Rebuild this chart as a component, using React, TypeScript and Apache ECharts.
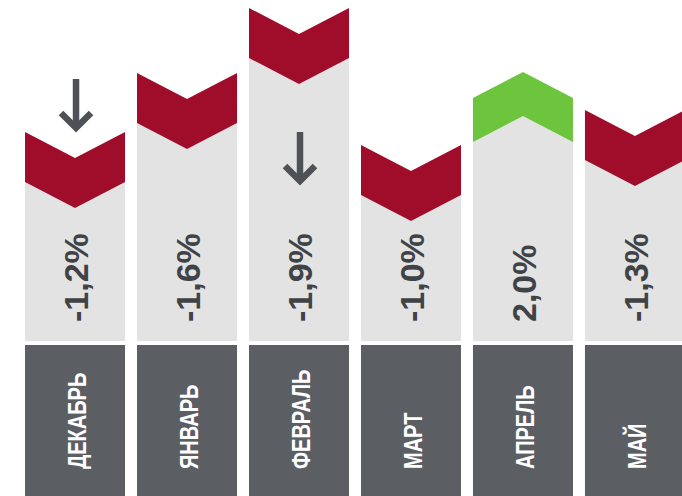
import React, { useEffect, useRef } from "react";
import * as echarts from "echarts";

// Month labels (categories)
const months = ["ДЕКАБРЬ", "ЯНВАРЬ", "ФЕВРАЛЬ", "МАРТ", "АПРЕЛЬ", "МАЙ"];
// Monthly change, %
const changes = [-1.2, -1.6, -1.9, -1.0, 2.0, -1.3];
// Column heights above the month boxes (px-like units)
const columnHeights = [213, 272, 337, 200, 273, 235];
// Down arrows: which month, top and bottom of each arrow (same units)
const arrowMonths = ["ДЕКАБРЬ", "ФЕВРАЛЬ"];
const arrowTops = [266, 213];
const arrowBottoms = [215, 162];

const RED = "#a00d2b";
const GREEN = "#6cc53c";
const LIGHT = "#e3e3e3";
const DARK = "#5b5e63";
const TEXT = "#3f4347";
const ARROW = "#4e5256";

const fmt = (v: number) => v.toFixed(1).replace(".", ",") + "%";

export default function App() {
  const ref = useRef<HTMLDivElement>(null);
  useEffect(() => {
    if (!ref.current) return;
    const chart = echarts.init(ref.current, null, { renderer: "svg" });
    const colData = months.map((m, i) => [i, columnHeights[i], changes[i]]);
    const arrowData = arrowMonths.map((m, k) => [months.indexOf(m), arrowTops[k], arrowBottoms[k]]);

    const renderColumn = (params: any, api: any) => {
      const idx = api.value(0);
      const h = api.value(1);
      const v = api.value(2);
      const base = api.coord([idx, 0]);
      const cx = base[0];
      const y0 = base[1];
      const yBottom = api.coord([idx, -151])[1];
      const yTop = api.coord([idx, h])[1];
      const u = api.size([0, 1])[1];
      const w = api.size([1, 0])[0] * 0.893;
      const hw = w / 2;
      const d = 26 * u;
      const children: any[] = [];
      children.push({
        type: "rect",
        shape: { x: cx - hw, y: y0, width: w, height: yBottom - y0 },
        style: { fill: DARK },
      });
      let grayTop: number;
      let pts: number[][];
      if (v < 0) {
        const t = 50 * u;
        grayTop = yTop + t;
        pts = [
          [cx - hw, yTop],
          [cx, yTop + d],
          [cx + hw, yTop],
          [cx + hw, yTop + t],
          [cx, yTop + t + d],
          [cx - hw, yTop + t],
        ];
      } else {
        const t = 44 * u;
        grayTop = yTop + t;
        pts = [
          [cx - hw, yTop + d],
          [cx, yTop],
          [cx + hw, yTop + d],
          [cx + hw, yTop + d + t],
          [cx, yTop + t],
          [cx - hw, yTop + d + t],
        ];
      }
      children.push({
        type: "rect",
        shape: { x: cx - hw, y: grayTop, width: w, height: y0 - 4 * u - grayTop },
        style: { fill: LIGHT },
      });
      children.push({
        type: "polygon",
        shape: { points: pts },
        style: { fill: v < 0 ? RED : GREEN },
      });
      children.push({
        type: "text",
        x: cx + 1,
        y: y0 - 23 * u,
        rotation: Math.PI / 2,
        style: {
          text: fmt(v),
          fill: TEXT,
          fontSize: 34,
          fontWeight: "bold",
          fontFamily: "'Liberation Sans', Arial, sans-serif",
          align: "left",
          verticalAlign: "middle",
        },
      });
      children.push({
        type: "text",
        x: cx + 3,
        y: y0 + 124 * u,
        rotation: Math.PI / 2,
        scaleX: 0.8,
        style: {
          text: months[idx],
          fill: "#ffffff",
          fontSize: 25,
          fontWeight: "bold",
          fontFamily: "'Liberation Sans', Arial, sans-serif",
          align: "left",
          verticalAlign: "middle",
        },
      });
      return { type: "group", children };
    };

    const renderArrow = (params: any, api: any) => {
      const idx = api.value(0);
      const p1 = api.coord([idx, api.value(1)]);
      const p2 = api.coord([idx, api.value(2)]);
      const cx = p1[0] + 1;
      const style = { stroke: ARROW, lineWidth: 6.5, fill: "none", lineJoin: "miter", lineCap: "butt" };
      return {
        type: "group",
        children: [
          { type: "line", shape: { x1: cx, y1: p1[1], x2: cx, y2: p2[1] - 4 }, style },
          {
            type: "polyline",
            shape: { points: [[cx - 15, p2[1] - 17], [cx, p2[1] - 2], [cx + 15, p2[1] - 17]] },
            style,
          },
        ],
      };
    };

    chart.setOption({
      animation: false,
      backgroundColor: "#ffffff",
      grid: { left: 0, right: 0, top: 0, bottom: 0, containLabel: false },
      xAxis: { type: "value", min: -0.67, max: 5.42, show: false },
      yAxis: { type: "value", min: -151, max: 345, show: false },
      series: [
        { type: "custom", renderItem: renderColumn, data: colData, clip: false, silent: true },
        { type: "custom", renderItem: renderArrow, data: arrowData, clip: false, silent: true, z: 5 },
      ],
    });
    return () => chart.dispose();
  }, []);
  return (
    <div
      ref={ref}
      style={{ position: "fixed", left: 0, top: 0, width: 682, height: 496 }}
    />
  );
}
